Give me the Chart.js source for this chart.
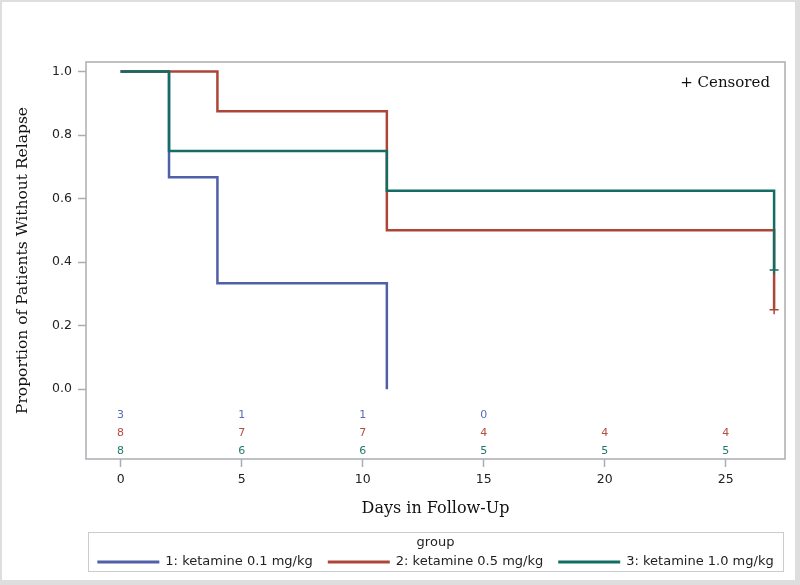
<!DOCTYPE html>
<html>
<head>
<meta charset="utf-8">
<script src="https://cdn.jsdelivr.net/npm/chart.js@4.4.0/dist/chart.umd.min.js"></script>
<style>
  body { margin: 0; background: #fff; }
  #frame {
    width: 793px; height: 578px;
    border-style: solid; border-color: #dedede;
    border-width: 2px 5px 5px 2px;
  }
  canvas { display: block; }
</style>
</head>
<body>
<div id="frame"><canvas id="kmChart" width="793" height="578"></canvas></div>
<script>
// groups
const groupLabels = ["1: ketamine 0.1 mg/kg", "2: ketamine 0.5 mg/kg", "3: ketamine 1.0 mg/kg"];
const groupColors = ["#4f5fa8", "#ad4639", "#146d65"];
const riskColors = ["#5a6ab4", "#b44c40", "#23796f"];

// Kaplan-Meier steps (day, proportion without relapse)
const days1 = [0, 2, 4, 11];
const surv1 = [1.0, 0.667, 0.333, 0.0];
const days2 = [0, 4, 11, 27];
const surv2 = [1.0, 0.875, 0.5, 0.25];
const days3 = [0, 2, 11, 27];
const surv3 = [1.0, 0.75, 0.625, 0.375];

// censored marks
const cens2Days = [27];
const cens2 = [0.25];
const cens3Days = [27];
const cens3 = [0.375];

// number at risk
const riskDays = [0, 5, 10, 15, 20, 25];
const risk1 = [3, 1, 1, 0];
const risk2 = [8, 7, 7, 4, 4, 4];
const risk3 = [8, 6, 6, 5, 5, 5];

// axis ticks
const xTicks = [0, 5, 10, 15, 20, 25];
const yTicks = [0.0, 0.2, 0.4, 0.6, 0.8, 1.0];

const toPoints = (xs, ys) => xs.map((d, i) => ({ x: d, y: ys[i] }));

function stepSet(i, xs, ys, order) {
  return {
    label: groupLabels[i],
    data: toPoints(xs, ys),
    borderColor: groupColors[i],
    borderWidth: 2.5,
    stepped: true,
    pointRadius: 0,
    fill: false,
    order: order,
  };
}

function censSet(i, xs, ys) {
  return {
    label: "censored " + (i + 1),
    data: toPoints(xs, ys),
    showLine: false,
    pointStyle: "cross",
    pointRadius: 4.5,
    pointBorderWidth: 1.5,
    borderColor: groupColors[i],
    order: -1,
  };
}

const boxColor = "#a9aeb3";

const kmExtras = {
  id: "kmExtras",
  afterDraw(chart) {
    const { ctx, chartArea: a, scales: { x } } = chart;
    ctx.save();

    // plot frame
    ctx.strokeStyle = boxColor;
    ctx.lineWidth = 1.5;
    ctx.strokeRect(a.left, a.top, a.right - a.left, a.bottom - a.top);

    // censored key
    ctx.font = '15px "DejaVu Serif"';
    ctx.fillStyle = "#111";
    ctx.textAlign = "right";
    ctx.textBaseline = "middle";
    ctx.fillText("+ Censored", a.right - 15, a.top + 21);

    // at-risk table
    ctx.font = '11px "DejaVu Sans"';
    ctx.textAlign = "center";
    [risk1, risk2, risk3].forEach((row, g) => {
      ctx.fillStyle = riskColors[g];
      row.forEach((n, i) => {
        ctx.fillText(String(n), x.getPixelForValue(riskDays[i]), a.bottom - 44 + g * 18);
      });
    });

    // legend
    const lx0 = a.left + 2, lx1 = a.right - 2;
    const ly0 = 530, ly1 = chart.height - 9;
    ctx.strokeStyle = "#c9cdd1";
    ctx.lineWidth = 1;
    ctx.strokeRect(lx0 + 0.5, ly0 + 0.5, lx1 - lx0, ly1 - ly0);

    const mid = (lx0 + lx1) / 2;
    ctx.font = '13px "DejaVu Sans"';
    ctx.fillStyle = "#222";
    ctx.fillText("group", mid, ly0 + 11);

    const lineLen = 62, gap = 6, itemGap = 15;
    const widths = groupLabels.map((t) => ctx.measureText(t).width);
    const total = widths.reduce((s, w) => s + w + lineLen + gap, 0) + itemGap * (groupLabels.length - 1);
    let cx = mid - total / 2;
    const iy = ly0 + 30;
    ctx.textAlign = "left";
    groupLabels.forEach((t, i) => {
      ctx.strokeStyle = groupColors[i];
      ctx.lineWidth = 3;
      ctx.beginPath();
      ctx.moveTo(cx, iy);
      ctx.lineTo(cx + lineLen, iy);
      ctx.stroke();
      ctx.fillStyle = "#222";
      ctx.fillText(t, cx + lineLen + gap, iy);
      cx += lineLen + gap + widths[i] + itemGap;
    });

    ctx.restore();
  },
};

Chart.defaults.font.family = '"DejaVu Sans", sans-serif';
Chart.defaults.color = "#222";

new Chart(document.getElementById("kmChart"), {
  type: "line",
  data: {
    datasets: [
      stepSet(0, days1, surv1, 2),
      stepSet(1, days2, surv2, 1),
      stepSet(2, days3, surv3, 0),
      censSet(1, cens2Days, cens2),
      censSet(2, cens3Days, cens3),
    ],
  },
  options: {
    responsive: false,
    animation: false,
    devicePixelRatio: 1,
    layout: { padding: { top: 60, right: 10, bottom: 56, left: 0 } },
    scales: {
      x: {
        type: "linear",
        min: -1.43,
        max: 27.45,
        afterBuildTicks: (s) => { s.ticks = xTicks.map((v) => ({ value: v })); },
        afterFit: (s) => { s.height = 65; },
        ticks: { font: { size: 12.5 }, padding: 5, color: "#222" },
        grid: { drawOnChartArea: false, tickLength: 8, tickColor: boxColor, tickWidth: 1.5 },
        border: { display: false },
        title: {
          display: true,
          text: "Days in Follow-Up",
          font: { family: '"DejaVu Serif"', size: 16 },
          color: "#111",
          padding: { top: 4, bottom: 6 },
        },
      },
      y: {
        type: "linear",
        min: -0.22,
        max: 1.03,
        afterBuildTicks: (s) => { s.ticks = yTicks.map((v) => ({ value: v })); },
        afterFit: (s) => { s.width = 84; },
        ticks: { font: { size: 12.5 }, padding: 6, color: "#222", callback: (v) => v.toFixed(1) },
        grid: { drawOnChartArea: false, tickLength: 8, tickColor: boxColor, tickWidth: 1.5 },
        border: { display: false },
        title: {
          display: true,
          text: "Proportion of Patients Without Relapse",
          font: { family: '"DejaVu Serif"', size: 15.5 },
          color: "#111",
          padding: { top: 12, bottom: 0 },
        },
      },
    },
    plugins: {
      legend: { display: false },
      tooltip: { enabled: false },
    },
  },
  plugins: [kmExtras],
});
</script>
</body>
</html>
